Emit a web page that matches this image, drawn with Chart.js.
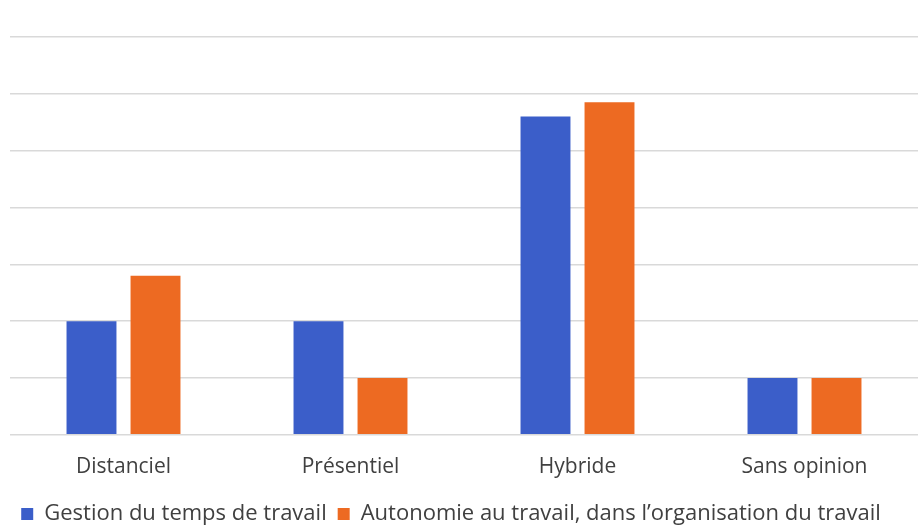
<!DOCTYPE html>
<html>
<head>
<meta charset="utf-8">
<script src="https://cdn.jsdelivr.net/npm/chart.js@4.4.1/dist/chart.umd.min.js"></script>
<style>
  html, body { margin: 0; padding: 0; background: #fff; }
  #wrap { width: 921px; height: 525px; }
</style>
</head>
<body>
<div id="wrap"><canvas id="chart"></canvas></div>
<script>
// Data
const categories = ['Distanciel', 'Présentiel', 'Hybride', 'Sans opinion'];
const gestionTemps = [2, 2, 5.6, 1];
const autonomie = [2.8, 1, 5.85, 1];
const seriesNames = ['Gestion du temps de travail', 'Autonomie au travail, dans l\u2019organisation du travail'];

const textColor = '#404040';
const gridColor = '#d9d9d9';

// Legend in the reference sits a little left of the plot centre
const legendShift = {
    id: 'legendShift',
    afterLayout(chart) {
        const lg = chart.legend;
        if (lg) {
            lg.left -= 13;
            lg.right -= 13;
        }
    }
};

const ctx = document.getElementById('chart').getContext('2d');
new Chart(ctx, {
    type: 'bar',
    data: {
        labels: categories,
        datasets: [{
            label: seriesNames[0],
            data: gestionTemps,
            backgroundColor: '#3b5ec9',
            barPercentage: 0.78,
            categoryPercentage: 0.564
        }, {
            label: seriesNames[1],
            data: autonomie,
            backgroundColor: '#ed6a22',
            barPercentage: 0.78,
            categoryPercentage: 0.564
        }]
    },
    options: {
        responsive: true,
        maintainAspectRatio: false,
        animation: false,
        layout: {
            padding: { top: 37, left: 10, right: 3, bottom: -10 }
        },
        plugins: {
            legend: {
                position: 'bottom',
                labels: {
                    color: textColor,
                    font: { family: 'Open Sans', size: 22 },
                    boxWidth: 12,
                    boxHeight: 12,
                    padding: 11
                }
            },
            tooltip: { enabled: false }
        },
        scales: {
            x: {
                grid: { display: false },
                border: { display: false },
                ticks: {
                    color: textColor,
                    font: { family: 'Open Sans', size: 21 },
                    padding: 12
                }
            },
            y: {
                min: 0,
                max: 7,
                ticks: { display: false, stepSize: 1 },
                grid: { color: gridColor, lineWidth: 1.5, drawTicks: false },
                border: { display: false }
            }
        }
    },
    plugins: [legendShift]
});
</script>
</body>
</html>
